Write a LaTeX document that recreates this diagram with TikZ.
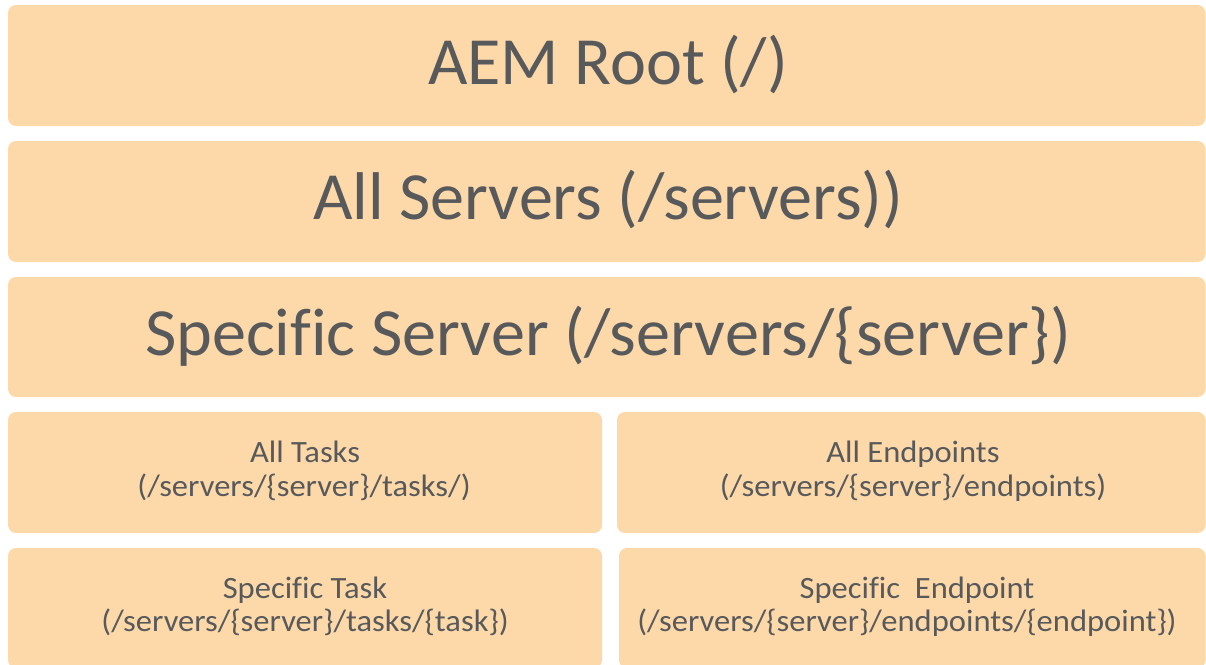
\documentclass[tikz,border=0pt]{standalone}
\usepackage{fontspec}
\setmainfont{Carlito}[Ligatures=NoCommon]
\newfontfamily\bigfont{Carlito}[Ligatures=NoCommon,FakeStretch=1.01]
\newfontfamily\smallfont{Carlito}[Ligatures=NoCommon,FakeStretch=1.05]
\definecolor{boxfill}{HTML}{FDD9AA}
\definecolor{txt}{HTML}{58595B}
\begin{document}
\begin{tikzpicture}[x=1pt,y=-1pt,
  layer/.style={fill=boxfill,draw=none,rounded corners=8pt},
  big/.style={anchor=base,inner sep=0pt,text=txt,font=\bigfont\fontsize{67.5}{70}\selectfont},
  small/.style={anchor=base,inner sep=0pt,text=txt,font=\smallfont\fontsize{31}{34}\selectfont}]
\useasboundingbox (0,0) rectangle (1206,664);
% boxes
\path[layer] (8,5) rectangle (1205.5,126);
\path[layer] (8,141) rectangle (1205.5,262);
\path[layer] (8,277) rectangle (1205.5,397);
\path[layer] (8,412) rectangle (602,533);
\path[layer] (617,412) rectangle (1205.5,533);
\path[layer] (8,548) rectangle (602,668);
\path[layer] (619,548) rectangle (1205.5,668);
% labels
\node[big] (root) at (608,84.3) {AEM Root (/)};
\node[big] (servers) at (608,219) {All Servers (/servers))};
\node[big] (server) at (608,355) {Specific Server (/servers/\{server\})};
\node[small] (tasks1) at (305,462.7) {All Tasks};
\node[small] (tasks2) at (304,496.7) {(/servers/\{server\}/tasks/)};
\node[small] (ep1) at (913,462.7) {All Endpoints};
\node[small] (ep2) at (913,496.7) {(/servers/\{server\}/endpoints)};
\node[small] (task1) at (305,598.3) {Specific Task};
\node[small] (task2) at (305,631.7) {(/servers/\{server\}/tasks/\{task\})};
\node[small] (sep1) at (917,598.3) {Specific\ \ Endpoint};
\node[small] (sep2) at (907,631.7) {(/servers/\{server\}/endpoints/\{endpoint\})};
\end{tikzpicture}
\end{document}
